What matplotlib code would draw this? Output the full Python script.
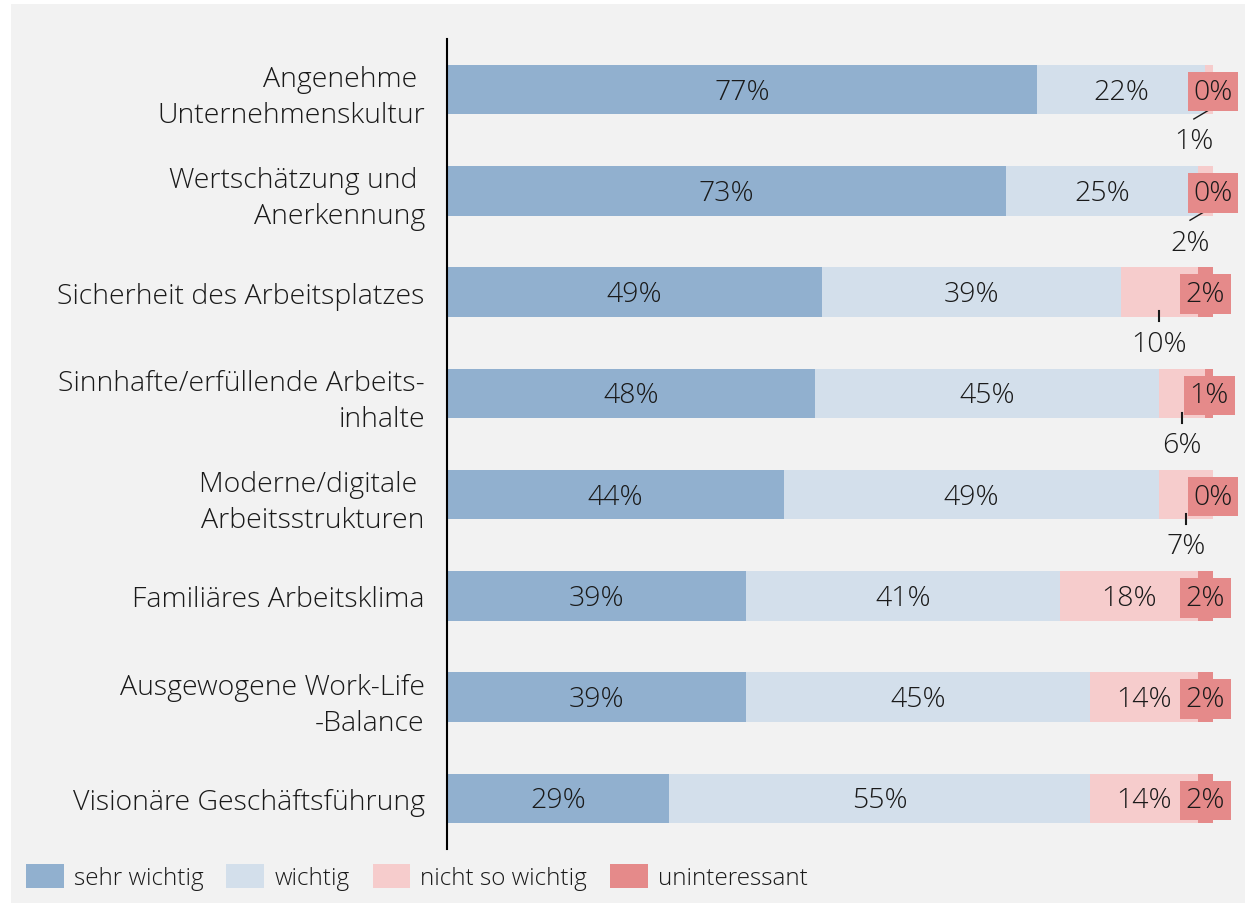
import matplotlib.pyplot as plt
import numpy as np
from matplotlib import font_manager
from matplotlib.patches import Rectangle, Patch

# look for a light face, the original uses a thin font
light_family = None
for fam in ["Open Sans", "Lato", "Roboto", "Noto Sans"]:
    for f in font_manager.fontManager.ttflist:
        if f.name == fam and isinstance(f.weight, int) and f.weight <= 300 and f.style == "normal":
            light_family = fam
            break
    if light_family:
        break
if light_family is None:
    light_family = "Open Sans"
plt.rcParams['font.family'] = [light_family, 'DejaVu Sans']
plt.rcParams['font.weight'] = 'light'

categories = ["Angenehme \nUnternehmenskultur",
              "Wertschätzung und \nAnerkennung",
              "Sicherheit des Arbeitsplatzes",
              "Sinnhafte/erfüllende Arbeits-\ninhalte",
              "Moderne/digitale \nArbeitsstrukturen",
              "Familiäres Arbeitsklima",
              "Ausgewogene Work-Life\n-Balance",
              "Visionäre Geschäftsführung"]
sehr_wichtig = [77, 73, 49, 48, 44, 39, 39, 29]
wichtig = [22, 25, 39, 45, 49, 41, 45, 55]
nicht_so_wichtig = [1, 2, 10, 6, 7, 18, 14, 14]
uninteressant = [0, 0, 2, 1, 0, 2, 2, 2]

series = [sehr_wichtig, wichtig, nicht_so_wichtig, uninteressant]
names = ["sehr wichtig", "wichtig", "nicht so wichtig", "uninteressant"]
colors = ["#91b0cf", "#d3dfeb", "#f6cccc", "#e58a8a"]

W, H = 1245, 904
fig = plt.figure(figsize=(W / 100, H / 100), dpi=100)
fig.patch.set_facecolor("white")
fig.patches.append(Rectangle((11 / W, 0), 1, 1 - 5 / H, transform=fig.transFigure,
                             facecolor="#f2f2f2", edgecolor="none", zorder=-10))

ax = fig.add_axes([447 / W, 1 - 850 / H, (W - 447) / W, 810 / H])
ax.set_facecolor("none")
ax.set_zorder(5)

y = np.arange(len(categories))
left = np.zeros(len(categories))
for vals, name, c in zip(series, names, colors):
    ax.barh(y, vals, left=left, height=0.49, color=c, label=name)
    left = left + np.array(vals)

fs = 20.5
tc = "#1a1a1a"
dy = 0.02
starts = np.zeros(len(categories))
for k, vals in enumerate(series):
    for i, v in enumerate(vals):
        mid = starts[i] + v / 2
        if k == 3:
            ax.text(mid, i + dy, f"{v}%", ha="center", va="center", fontsize=fs, color=tc,
                    bbox=dict(boxstyle="square,pad=0.2", fc="#e58a8a", ec="none"))
        elif v >= 12:
            ax.text(mid, i + dy, f"{v}%", ha="center", va="center", fontsize=fs, color=tc)
        else:
            # small segment: label below the bar with a leader line
            if v <= 2:
                lx = mid - 2
                ax.plot([mid, lx], [i + 0.2, i + 0.29], color=tc, lw=1)
            else:
                lx = mid
                ax.plot([mid, mid], [i + 0.19, i + 0.29], color=tc, lw=1.5)
            ax.text(lx, i + 0.51, f"{v}%", ha="center", va="center", fontsize=fs, color=tc)
    starts = starts + np.array(vals)

ax.set_xlim(0, 100 * (W - 447) / 766)
ax.set_ylim(len(categories) - 0.5, -0.5)
ax.set_yticks(y)
ax.set_yticklabels(categories, fontsize=fs, color=tc, linespacing=1.38)
ax.tick_params(axis="y", length=0, pad=16)
ax.set_xticks([])
for s in ["top", "right", "bottom"]:
    ax.spines[s].set_visible(False)
ax.spines["left"].set_linewidth(1.5)
ax.spines["left"].set_color("black")

handles = [Patch(facecolor=c, label=n) for c, n in zip(colors, names)]
fig.legend(handles=handles, loc="lower left", bbox_to_anchor=(4 / W, -9 / H), ncol=4,
           frameon=False, fontsize=17.5, handlelength=1.56, handleheight=1.19,
           handletextpad=0.41, columnspacing=0.95, labelcolor=tc)

fig.savefig("out.png", dpi=100)
